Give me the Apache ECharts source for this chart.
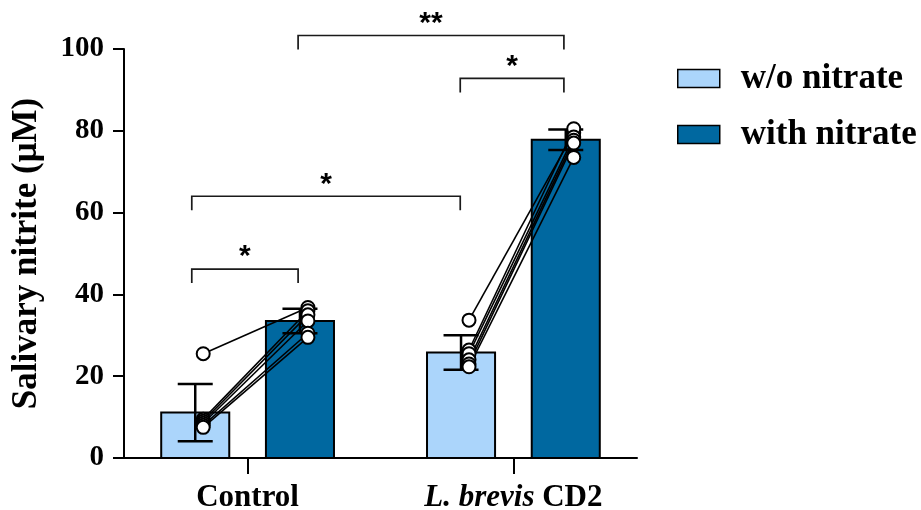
<!DOCTYPE html>
<html>
<head>
<meta charset="utf-8">
<script src="https://cdn.jsdelivr.net/npm/echarts@6/dist/echarts.min.js"></script>
<style>
  html, body { margin: 0; padding: 0; background: #fff; }
  #chart { width: 921px; height: 510px; }
</style>
</head>
<body>
<div id="chart"></div>
<script>
// group names and their positions on the x axis
const groups = ['Control', 'L. brevis CD2']
const groupPos = [1, 2]

// bar heights (mean) and error bars (SD)
const woMean = [11.1, 25.8]
const woSd = [7.0, 4.2]
const withMean = [33.5, 77.8]
const withSd = [3.0, 2.5]

// individual subjects, paired w/o -> with
const ctrlWo = [25.5, 9.5, 9.0, 8.5, 8.0, 7.5]
const ctrlWith = [36.8, 36.0, 35.0, 33.5, 30.5, 29.5]
const brevWo = [33.7, 26.4, 25.5, 24.0, 23.0, 22.3]
const brevWith = [79.5, 80.5, 78.5, 77.7, 77.0, 73.5]

// significance brackets
const bracketFrom = [0.79, 0.79, 1.80, 1.19]
const bracketTo = [1.19, 1.80, 2.19, 2.19]
const bracketY = [46.2, 64.0, 92.8, 103.3]
const bracketLabel = ['*', '*', '*', '**']

const yTicks = [0, 20, 40, 60, 80, 100]

const barOffset = 0.197 // half distance between the two bars of a group
const barWidth = 0.256
const dotOffset = 0.03
const serif = 'Liberation Serif'

const chart = echarts.init(document.getElementById('chart'))

// bars
function renderBar (params, api) {
  const x = api.value(0)
  const top = api.coord([x, api.value(1)])
  const base = api.coord([x, 0])
  const w = api.size([barWidth, 0])[0]
  return {
    type: 'rect',
    shape: { x: top[0] - w / 2, y: top[1], width: w, height: base[1] - top[1] },
    style: { fill: api.visual('color'), stroke: '#000', lineWidth: 2 }
  }
}

// error bars (mean +- sd)
function renderErr (params, api) {
  const x = api.value(0)
  const m = api.value(1)
  const s = api.value(2)
  const hi = api.coord([x, m + s])
  const lo = api.coord([x, m - s])
  const cap = 17.5
  const st = { stroke: '#000', lineWidth: 2.5 }
  return {
    type: 'group',
    children: [
      { type: 'line', shape: { x1: hi[0], y1: hi[1], x2: lo[0], y2: lo[1] }, style: st },
      { type: 'line', shape: { x1: hi[0] - cap, y1: hi[1], x2: hi[0] + cap, y2: hi[1] }, style: st },
      { type: 'line', shape: { x1: lo[0] - cap, y1: lo[1], x2: lo[0] + cap, y2: lo[1] }, style: st }
    ]
  }
}

// significance brackets
function renderBracket (params, api) {
  const i = params.dataIndex
  const a = api.coord([api.value(0), api.value(2)])
  const b = api.coord([api.value(1), api.value(2)])
  const drop = 14
  const st = { stroke: '#1a1a1a', lineWidth: 1.7, fill: null }
  return {
    type: 'group',
    children: [
      {
        type: 'polyline',
        shape: { points: [[a[0], a[1] + drop], [a[0], a[1]], [b[0], b[1]], [b[0], b[1] + drop]] },
        style: st
      },
      {
        type: 'text',
        x: (a[0] + b[0]) / 2,
        y: a[1] - 12,
        style: {
          text: bracketLabel[i],
          fill: '#000',
          font: 'bold 30px "Liberation Sans"',
          align: 'center',
          verticalAlign: 'middle'
        }
      }
    ]
  }
}

const series = [
  {
    name: 'w/o nitrate',
    type: 'custom',
    renderItem: renderBar,
    itemStyle: { color: '#abd5fb' },
    encode: { x: 0, y: 1 },
    data: woMean.map((v, i) => [groupPos[i] - barOffset, v]),
    z: 2
  },
  {
    name: 'with nitrate',
    type: 'custom',
    renderItem: renderBar,
    itemStyle: { color: '#0068a0' },
    encode: { x: 0, y: 1 },
    data: withMean.map((v, i) => [groupPos[i] + barOffset, v]),
    z: 2
  },
  {
    type: 'custom',
    renderItem: renderErr,
    encode: { x: 0, y: 1 },
    data: woMean.map((v, i) => [groupPos[i] - barOffset, v, woSd[i]])
      .concat(withMean.map((v, i) => [groupPos[i] + barOffset, v, withSd[i]])),
    silent: true,
    z: 3
  },
  {
    type: 'custom',
    renderItem: renderBracket,
    encode: { x: [0, 1], y: 2 },
    data: bracketFrom.map((f, i) => [f, bracketTo[i], bracketY[i]]),
    clip: false,
    silent: true,
    z: 6
  }
]

// paired lines, one small line series per subject
const pairs = [[ctrlWo, ctrlWith], [brevWo, brevWith]]
const dots = []
pairs.forEach(function (p, g) {
  const xa = groupPos[g] - barOffset + dotOffset
  const xb = groupPos[g] + barOffset + dotOffset
  p[0].forEach(function (v, k) {
    series.push({
      type: 'line',
      data: [[xa, v], [xb, p[1][k]]],
      showSymbol: false,
      lineStyle: { color: '#000', width: 1.6 },
      silent: true,
      z: 4
    })
    dots.push([xa, v], [xb, p[1][k]])
  })
})

series.push({
  type: 'scatter',
  data: dots,
  symbol: 'circle',
  symbolSize: 13,
  itemStyle: { color: '#fff', borderColor: '#000', borderWidth: 2, opacity: 1 },
  silent: true,
  z: 5
})

const option = {
  animation: false,
  grid: {
    left: 124,
    right: 284,
    top: 49,
    bottom: 52,
    containLabel: false,
    outerBoundsMode: 'none'
  },
  legend: {
    data: ['w/o nitrate', 'with nitrate'],
    orient: 'vertical',
    left: 672,
    top: 56,
    icon: 'rect',
    itemWidth: 42,
    itemHeight: 18,
    itemGap: 21,
    itemStyle: { borderColor: '#000', borderWidth: 1.5 },
    selectedMode: false,
    textStyle: {
      fontFamily: serif,
      fontWeight: 'bold',
      fontSize: 35,
      lineHeight: 34,
      color: '#000',
      padding: [0, 0, 0, 16]
    }
  },
  xAxis: {
    type: 'value',
    min: 0.535,
    max: 2.465,
    splitLine: { show: false },
    axisLine: { show: true, onZero: false, lineStyle: { color: '#000', width: 2 } },
    axisTick: { show: true, customValues: groupPos, length: 16, lineStyle: { color: '#000', width: 2 } },
    axisLabel: {
      customValues: groupPos,
      margin: 24,
      formatter: function (v) {
        return v < 1.5 ? '{b|' + groups[0] + '}' : '{bi|L. brevis}{b| CD2}'
      },
      rich: {
        b: { fontFamily: serif, fontWeight: 'bold', fontSize: 31, color: '#000' },
        bi: { fontFamily: serif, fontWeight: 'bold', fontStyle: 'italic', fontSize: 31, color: '#000' }
      }
    }
  },
  yAxis: {
    type: 'value',
    min: yTicks[0],
    max: yTicks[yTicks.length - 1],
    interval: 20,
    name: 'Salivary nitrite (μM)',
    nameLocation: 'middle',
    nameGap: 80,
    nameTextStyle: { fontFamily: serif, fontWeight: 'bold', fontSize: 35, color: '#000' },
    splitLine: { show: false },
    axisLine: { show: true, lineStyle: { color: '#000', width: 2 } },
    axisTick: { show: true, length: 11, lineStyle: { color: '#000', width: 2 } },
    axisLabel: { margin: 20, fontFamily: serif, fontWeight: 'bold', fontSize: 29, color: '#000' }
  },
  series: series
}

chart.setOption(option)
window.addEventListener('resize', () => {
  chart.resize()
})
</script>
</body>
</html>
